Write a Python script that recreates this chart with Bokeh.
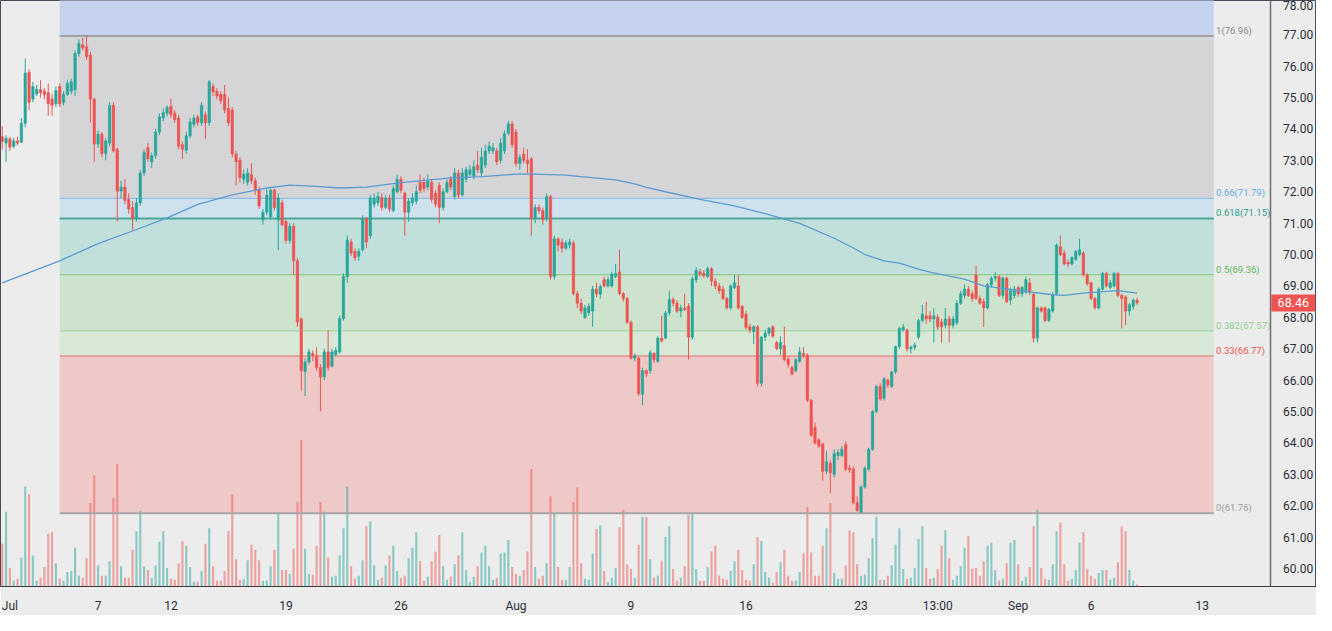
from bokeh.plotting import figure
from bokeh.models import ColumnDataSource, Range1d, FixedTicker, NumeralTickFormatter, LinearAxis
from bokeh.embed import file_html
from bokeh.resources import INLINE
from bokeh.core.properties import value

# ---------------- data (4H candles, WTI crude, Jul-Sep) ----------------
opens = [
 73.75,73.55,73.68,73.45,73.62,73.58,74.18,75.80,74.95,75.12,
 75.25,75.20,75.15,74.95,74.80,75.35,74.85,75.10,75.20,75.25,
 76.40,76.68,76.62,76.35,74.95,73.52,73.83,73.22,73.55,74.75,
 73.35,72.02,72.15,71.75,71.50,71.15,71.65,72.60,73.40,72.95,
 73.15,73.90,74.35,74.50,74.72,74.50,74.35,73.50,73.32,73.78,
 74.15,74.38,74.20,74.45,74.20,75.35,75.20,75.10,75.10,74.65,
 74.60,73.20,73.00,72.40,72.30,72.55,72.35,72.05,71.10,71.35,
 71.20,72.05,71.10,71.65,71.05,70.45,70.90,69.80,67.95,66.28,
 66.58,66.85,66.78,66.40,66.10,66.90,66.45,66.82,66.90,67.96,
 69.30,70.40,70.10,69.95,70.15,71.15,70.60,71.60,71.65,71.82,
 71.50,71.80,71.40,72.00,72.40,71.95,71.35,71.65,71.70,72.30,
 72.30,72.15,72.30,71.95,72.20,71.50,72.00,72.40,71.85,72.60,
 71.90,72.40,72.55,72.50,72.85,72.60,72.85,73.30,73.30,73.30,
 73.00,73.30,73.86,74.16,73.90,72.90,73.20,73.00,73.05,71.15,
 71.50,71.40,71.15,71.85,69.30,70.50,70.40,70.20,70.30,70.37,
 68.76,68.45,68.00,68.15,68.20,68.90,68.74,69.20,69.00,69.00,
 69.30,69.44,68.76,68.60,67.84,66.70,66.70,65.55,66.30,66.30,
 66.85,66.60,67.34,67.34,68.14,68.57,68.45,68.20,68.30,68.36,
 67.37,69.20,69.45,69.40,69.30,69.55,69.15,69.00,68.90,68.60,
 68.30,68.95,69.00,68.35,68.10,67.70,67.55,67.70,65.90,67.37,
 67.50,67.70,67.20,67.00,67.10,66.66,66.40,66.30,66.60,66.85,
 66.80,65.36,64.50,64.10,63.97,63.10,63.35,63.00,63.60,63.60,
 63.95,63.20,63.17,62.10,61.80,62.60,63.17,63.80,65.00,65.80,
 65.42,66.00,65.80,66.26,67.07,67.60,67.60,67.00,67.05,67.37,
 67.90,68.05,68.05,67.95,68.00,67.85,67.75,67.95,67.75,67.83,
 68.45,68.70,68.90,68.75,69.35,68.60,68.50,68.30,69.04,69.25,
 69.30,68.70,69.25,68.55,68.70,68.95,68.75,68.80,69.10,68.73,
 67.34,68.30,68.30,67.90,68.20,68.76,70.25,70.05,69.75,69.70,
 69.85,70.00,70.05,69.35,69.10,68.60,68.30,68.90,69.40,68.95,
 69.00,69.40,68.70,68.65,68.20,68.35,68.55]
highs = [
 74.10,73.80,73.75,73.72,73.75,74.35,76.24,75.90,75.50,75.40,
 75.55,75.30,75.45,75.10,75.35,75.45,75.20,75.55,75.60,76.50,
 76.85,76.90,76.98,76.45,75.00,73.95,73.90,73.70,74.85,74.85,
 73.40,72.35,72.40,71.95,71.70,71.80,72.70,73.35,73.55,73.25,
 74.00,74.50,74.65,74.75,74.97,74.60,74.45,73.60,73.90,74.35,
 74.45,74.45,74.85,74.55,75.55,75.45,75.30,75.20,75.40,75.00,
 74.70,73.30,73.10,72.70,72.75,72.90,72.45,72.15,71.45,72.10,
 72.10,72.10,71.95,71.75,71.10,71.00,71.00,69.90,68.00,66.70,
 67.00,66.95,67.05,66.50,67.00,67.60,67.00,67.05,68.05,69.40,
 70.60,70.50,70.20,70.20,71.25,71.20,71.90,71.95,72.00,71.95,
 71.90,71.90,72.20,72.55,72.50,72.00,71.80,71.95,72.20,72.55,
 72.45,72.55,72.40,72.05,72.30,72.10,72.40,72.50,72.75,72.70,
 72.75,72.80,72.85,73.00,73.30,73.40,73.50,73.60,73.55,73.40,
 73.70,73.95,74.25,74.25,74.00,73.20,73.40,73.35,73.10,71.60,
 71.60,71.50,71.95,71.90,70.60,70.55,70.50,70.45,70.50,70.45,
 68.85,68.60,68.40,68.45,69.00,69.10,69.05,69.30,69.30,69.45,
 69.70,70.16,68.80,68.65,67.90,66.85,66.75,66.40,66.35,66.95,
 66.90,67.40,68.05,68.20,68.85,68.65,68.55,68.40,68.75,68.45,
 69.30,69.60,69.55,69.50,69.62,69.60,69.25,69.10,69.00,68.65,
 69.05,69.35,69.35,68.40,68.20,67.80,67.75,67.75,67.40,67.60,
 67.70,67.75,67.25,67.40,67.70,66.75,66.45,66.70,67.05,67.05,
 66.85,65.40,64.65,64.15,64.00,63.75,63.45,63.80,63.80,63.90,
 64.05,63.30,63.25,62.30,62.65,63.25,63.85,65.05,65.85,65.90,
 66.10,66.05,66.30,67.10,67.70,67.80,67.65,67.10,67.20,67.95,
 68.40,68.50,68.20,68.30,68.10,67.95,68.30,68.05,68.05,68.55,
 68.85,69.05,69.00,68.85,69.65,68.70,68.60,69.10,69.30,69.45,
 69.35,69.30,69.30,68.95,69.00,69.00,69.00,69.30,69.25,68.80,
 68.35,68.35,68.35,68.30,68.80,70.35,70.60,70.15,69.85,69.95,
 70.15,70.50,70.10,69.40,69.15,68.65,68.95,69.45,69.45,69.20,
 69.45,69.45,68.75,68.70,68.45,68.60,68.62]
lows = [
 73.35,72.95,73.30,73.38,73.48,73.55,74.05,74.60,74.85,75.05,
 75.00,74.95,74.42,74.42,74.70,74.70,74.75,75.05,75.10,75.05,
 76.30,76.50,76.20,74.20,72.95,73.40,73.10,73.00,73.45,73.25,
 71.05,71.80,71.60,71.30,70.77,71.05,71.55,72.50,72.95,72.75,
 73.05,73.80,74.25,74.40,74.35,74.20,73.35,73.05,73.20,73.70,
 74.05,74.10,74.10,73.68,74.10,75.05,74.95,74.80,74.50,74.10,
 73.10,72.20,72.30,72.25,72.20,72.25,71.90,71.45,70.95,71.25,
 71.10,71.40,70.15,70.90,70.35,70.35,69.35,67.70,65.67,65.50,
 66.50,66.60,66.30,65.00,66.00,66.30,66.40,66.75,66.85,67.90,
 69.10,69.95,69.80,69.80,70.10,70.20,70.50,71.50,71.55,71.40,
 71.45,71.35,71.35,71.95,71.95,70.60,71.05,71.55,71.60,71.95,
 72.00,72.05,71.65,71.50,71.00,71.40,71.95,72.05,71.75,71.80,
 71.85,72.30,72.50,72.40,72.60,72.50,72.75,73.20,73.20,72.85,
 72.90,73.20,73.80,73.40,72.80,72.70,72.90,72.60,70.60,71.00,
 71.30,70.95,71.05,69.20,69.20,70.10,70.05,70.15,70.20,68.70,
 68.30,68.10,67.95,68.05,67.70,68.65,68.60,68.95,68.95,68.95,
 69.25,68.70,68.50,67.80,66.65,66.60,65.50,65.20,66.10,66.20,
 66.55,66.55,67.20,67.30,68.05,68.35,68.15,68.00,68.20,66.66,
 67.30,69.10,69.30,69.25,69.25,69.00,68.90,68.75,68.55,68.25,
 68.25,68.90,68.25,67.95,67.60,67.50,67.15,65.80,65.80,67.25,
 67.40,67.35,66.95,66.80,66.60,66.40,66.15,66.25,66.55,66.70,
 65.30,64.20,63.95,63.85,62.80,63.00,62.40,62.90,63.45,63.55,
 63.10,63.05,62.05,61.80,61.76,62.55,63.10,63.75,64.95,65.35,
 65.35,65.75,65.75,66.20,67.00,67.55,66.90,66.85,66.95,67.30,
 67.85,67.80,67.85,67.20,67.60,67.20,67.65,67.20,67.65,67.75,
 68.40,68.60,68.65,68.50,68.55,68.40,67.69,68.25,68.95,69.15,
 68.65,68.60,68.45,68.40,68.60,68.65,68.65,68.75,68.70,67.20,
 67.20,68.15,67.85,67.85,68.15,68.70,69.95,69.65,69.60,69.65,
 69.80,69.95,69.30,69.00,68.55,68.25,68.25,68.85,68.95,68.90,
 68.95,68.65,67.65,67.75,68.05,68.25,68.40]
closes = [
 73.60,73.70,73.42,73.62,73.55,74.18,75.78,74.85,75.35,75.26,
 75.15,75.10,74.80,74.75,75.22,74.80,75.10,75.45,75.50,76.40,
 76.72,76.58,76.30,74.95,73.52,73.83,73.22,73.62,74.75,73.30,
 72.02,72.15,71.72,71.45,71.15,71.65,72.60,73.25,73.05,73.15,
 73.90,74.38,74.52,74.68,74.45,74.30,73.45,73.35,73.78,74.22,
 74.35,74.20,74.75,74.20,75.50,75.18,75.05,74.90,74.60,74.20,
 73.20,72.95,72.45,72.55,72.60,72.35,72.05,71.55,71.35,71.90,
 72.05,71.50,71.80,70.95,70.45,70.90,69.80,67.85,66.30,66.58,
 66.90,66.78,66.40,66.10,66.90,66.40,66.90,66.95,67.96,69.30,
 70.46,70.05,69.90,70.10,71.15,70.40,71.80,71.80,71.85,71.50,
 71.80,71.45,72.10,72.40,72.05,71.35,71.70,71.80,72.00,72.05,
 72.10,72.35,71.75,71.60,71.50,72.00,72.30,72.15,72.60,71.90,
 72.60,72.70,72.70,72.80,72.70,73.10,73.30,73.45,73.40,72.95,
 73.55,73.85,74.16,73.50,72.90,73.10,73.00,72.90,71.15,71.50,
 71.40,71.10,71.85,69.30,70.50,70.30,70.20,70.37,70.40,68.76,
 68.45,68.20,68.30,68.35,68.90,68.75,68.98,69.00,69.20,69.38,
 69.40,68.76,68.60,67.84,66.70,66.78,65.58,66.30,66.20,66.87,
 66.65,67.34,67.25,68.14,68.57,68.45,68.20,68.30,68.25,67.37,
 69.23,69.50,69.38,69.32,69.55,69.15,69.00,68.85,68.60,68.30,
 69.00,69.10,68.30,68.00,67.68,67.60,67.70,65.90,67.37,67.50,
 67.65,67.40,67.00,67.20,66.66,66.50,66.20,66.65,66.90,66.78,
 65.36,64.25,64.00,63.90,63.10,63.40,63.05,63.66,63.70,63.80,
 63.17,63.15,62.10,61.85,62.60,63.20,63.80,65.00,65.80,65.40,
 66.04,65.85,66.26,67.07,67.65,67.68,67.00,67.05,67.12,67.90,
 68.10,67.95,67.95,68.05,67.70,67.70,67.95,67.75,67.95,68.45,
 68.75,68.90,68.70,68.60,68.60,68.45,68.30,69.04,69.25,69.30,
 68.70,69.25,68.50,68.85,68.90,68.75,68.95,69.20,68.80,67.34,
 68.30,68.20,67.90,68.25,68.73,70.30,70.00,69.70,69.70,69.90,
 70.10,70.15,69.35,69.07,68.60,68.30,68.90,69.40,69.00,69.10,
 69.40,68.70,68.60,68.20,68.40,68.55,68.46]
volumes = [  # thousands of contracts
 44,77,19,6,8,30,103,95,32,6, 9,20,54,56,24,8,6,15,16,40,
 11,9,29,86,115,22,11,11,26,91, 126,21,9,9,38,57,78,21,17,9,
 22,46,57,19,8,7,24,47,42,20, 5,5,16,44,60,21,6,6,16,57,
 95,28,7,8,27,43,38,27,6,6, 21,38,76,17,17,13,39,87,151,39,
 13,12,42,87,77,30,10,11,32,60, 103,21,8,11,27,62,67,22,7,9,
 22,32,42,16,9,11,29,40,56,26, 6,10,26,36,53,21,7,10,23,32,
 56,17,5,10,21,35,42,21,7,9, 34,35,48,20,13,11,17,36,121,20,
 8,11,24,93,75,20,7,7,20,87, 102,24,8,7,34,59,63,16,5,9,
 19,61,79,23,18,9,43,72,72,28, 9,11,26,51,62,18,6,9,21,74,
 75,18,6,6,20,36,42,11,8,7, 16,26,38,17,7,6,23,51,47,15,
 9,4,15,25,38,11,6,6,15,34, 82,35,11,11,42,60,86,14,8,8,
 22,58,56,23,11,12,29,50,72,7, 7,11,22,43,60,18,8,9,19,49,
 62,19,8,9,18,42,58,29,7,11, 21,40,52,18,19,11,26,42,45,17,
 6,8,24,45,48,23,6,10,20,62, 79,19,8,7,23,57,66,23,6,8,
 17,45,56,18,11,8,14,17,17,7, 9,25,62,57,17,6,2]

# 200-period moving average, read at selected bars
ma_bar = [0, 15, 25, 34, 43, 51, 60, 69, 75, 82, 88, 95, 104, 117, 125, 134, 137,
          147, 151, 160, 165, 168, 173, 182, 191, 199, 208, 217, 222, 225, 230, 234,
          239, 242, 248, 251, 256, 265, 274, 277, 282, 291, 296]
ma_val = [69.10, 69.80, 70.35, 70.75, 71.17, 71.60, 71.90, 72.12, 72.21, 72.17, 72.12,
          72.15, 72.29, 72.44, 72.48, 72.56, 72.57, 72.53, 72.48, 72.38, 72.25, 72.14,
          72.00, 71.76, 71.55, 71.30, 70.99, 70.52, 70.21, 70.00, 69.80, 69.73, 69.54,
          69.44, 69.29, 69.22, 69.00, 68.85, 68.72, 68.70, 68.77, 68.85, 68.77]

# Fibonacci retracement (anchored bars and levels)
fib_start_bar, fib_end_bar = 15, 316
fib_ratios = [0, 0.33, 0.382, 0.5, 0.618, 0.66, 1, 1.236]
fib_prices = [61.76, 66.77, 67.57, 69.36, 71.15, 71.79, 76.96, 80.55]
zone_colors = ["#efc9c8", "#d7e8d6", "#cde3cd", "#c1dfdb", "#d0e1ee", "#d5d5d7", "#c5d2f0"]
line_colors = ["#a6a6a6", "#ee6e6e", "#a9d6a9", "#8fcd8f", "#4fa79a", "#8fbfe9", "#8f8f8f", "#8f8f8f"]
line_widths = [2, 1.2, 1.2, 1.2, 2, 1.2, 1.5, 1.5]
label_colors = ["#9a9a9a", "#ef5350", "#8fcf8f", "#5cb85c", "#2a9d8c", "#64aee8", "#8a8a8a", "#8a8a8a"]

# axis ticks
date_ticks = [2, 25, 44, 74, 104, 134, 164, 194, 224, 244, 265, 284, 313]
date_labels = ["Jul", "7", "12", "19", "26", "Aug", "9", "16", "23", "13:00", "Sep", "6", "13"]
price_ticks = list(range(60, 79))

UP, DOWN = "#26a69a", "#ef5350"
X_END = 342.8      # right edge of the chart window (bars)
AXIS_AT = 330.7    # where the price scale sits (bars)

# ---------------- figure ----------------
n = len(closes)
idx = list(range(n))
up = [c >= o for o, c in zip(opens, closes)]
src = ColumnDataSource(dict(
    idx=idx, open=opens, high=highs, low=lows, close=closes, vol=volumes,
    top=[max(o, c) for o, c in zip(opens, closes)],
    bot=[min(o, c) for o, c in zip(opens, closes)],
    color=[UP if u else DOWN for u in up],
))

p = figure(width=1316, height=615, output_backend="svg", toolbar_location=None,
           x_range=Range1d(-0.45, X_END), y_range=Range1d(59.43, 78.09),
           y_axis_location=None, min_border_left=0, min_border_top=0,
           min_border_right=0, min_border_bottom=26)
p.background_fill_color = "#ececec"
p.border_fill_color = "#ececec"
p.outline_line_color = "#4a4d55"
p.outline_line_width = 1
p.xgrid.visible = False
p.ygrid.visible = False

# fib zones
fsrc = ColumnDataSource(dict(
    left=[fib_start_bar] * (len(fib_prices) - 1),
    right=[fib_end_bar] * (len(fib_prices) - 1),
    bottom=fib_prices[:-1], top=fib_prices[1:], color=zone_colors))
p.quad(left="left", right="right", bottom="bottom", top="top", source=fsrc,
       fill_color="color", line_color=None)

# volume
p.extra_y_ranges = {"vol": Range1d(0, 604)}
p.vbar(x="idx", top="vol", bottom=0, width=0.55, source=src, y_range_name="vol",
       fill_color="color", fill_alpha=0.5, line_color=None)

# fib lines
lsrc = ColumnDataSource(dict(
    x0=[fib_start_bar] * len(fib_prices), x1=[fib_end_bar] * len(fib_prices),
    y=fib_prices, color=line_colors, w=line_widths))
p.segment(x0="x0", x1="x1", y0="y", y1="y", source=lsrc, line_color="color", line_width="w")

# candles
p.segment(x0="idx", x1="idx", y0="low", y1="high", source=src, line_color="color", line_width=1)
p.vbar(x="idx", top="top", bottom="bot", width=0.62, source=src,
       fill_color="color", line_color="color", line_width=0.6)

# moving average
p.line(ma_bar, ma_val, line_color="#5b9bd5", line_width=1.3)

# fib labels
tsrc = ColumnDataSource(dict(
    x=[fib_end_bar + 0.6] * (len(fib_prices) - 1),
    y=fib_prices[:-1],
    t=[f"{r:g}({v:.2f})" for r, v in zip(fib_ratios[:-1], fib_prices[:-1])],
    c=label_colors[:-1]))
p.text(x="x", y="y", text="t", source=tsrc, text_color="c", text_font=value("Roboto"),
       text_font_size="9.5px", text_baseline="bottom", text_align="left")

# price scale (real axis, fixed at the chart's right side)
yax = LinearAxis(fixed_location=AXIS_AT, ticker=FixedTicker(ticks=price_ticks),
                 formatter=NumeralTickFormatter(format="0.00"))
yax.major_tick_line_color = None
yax.minor_tick_line_color = None
yax.axis_line_color = "#6e6e6e"
yax.axis_line_width = 1.5
yax.major_label_text_font = "Roboto"
yax.major_label_text_font_size = "12px"
yax.major_label_text_color = "#2a2e39"
yax.major_label_standoff = 7
p.add_layout(yax, "right")

p.xaxis.ticker = FixedTicker(ticks=date_ticks)
p.xaxis.major_label_overrides = dict(zip(date_ticks, date_labels))
p.xaxis.major_tick_line_color = None
p.xaxis.minor_tick_line_color = None
p.xaxis.axis_line_color = "#3a3a3a"
p.xaxis.major_label_text_font = "Roboto"
p.xaxis.major_label_text_font_size = "12px"
p.xaxis.major_label_text_color = "#2a2e39"
p.xaxis.major_label_standoff = 6

# last price tag on the price scale
tag_x = AXIS_AT + (X_END - AXIS_AT) / 2
p.rect(x=[tag_x], y=[closes[-1]], width=44, height=17, width_units="screen",
       height_units="screen", fill_color="#ef5350", line_color=None, level="overlay")
p.text(x=[tag_x], y=[closes[-1]], text=[f"{closes[-1]:.2f}"], text_color="white",
       text_font=value("Roboto"), text_font_size="12.5px", text_align="center",
       text_baseline="middle", level="overlay")

open("out.html", "w").write(file_html(p, INLINE))
